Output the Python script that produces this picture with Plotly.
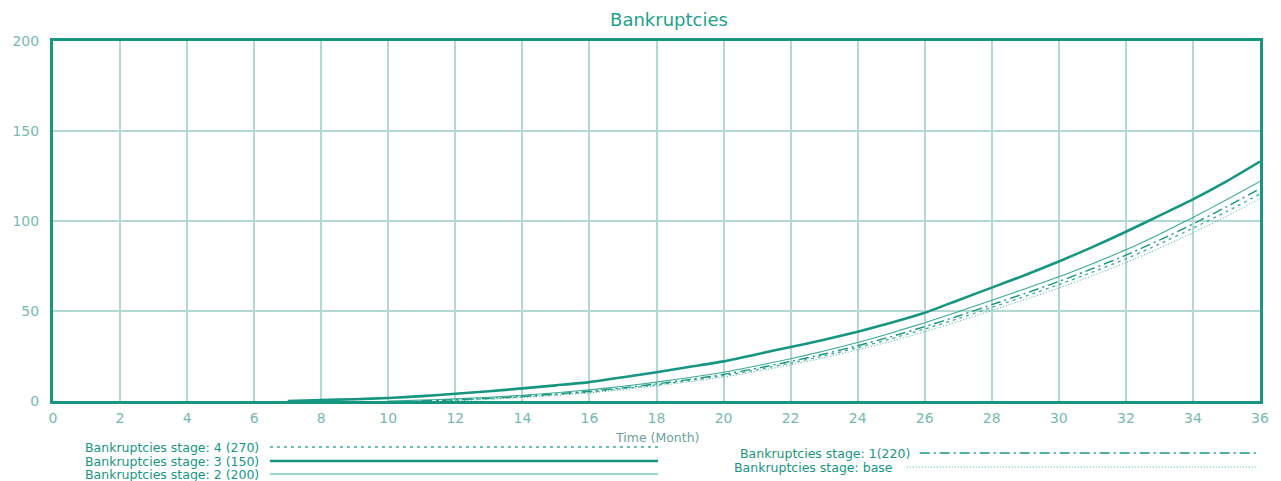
import plotly.graph_objects as go

months = list(range(0, 37))

stage3_150 = [None]*7 + [0, 0.5, 1.0, 1.7, 2.7, 4.0, 5.4, 7.0, 8.7, 10.5, 13.2, 16, 19, 22, 26, 30, 34,
              38.5, 43.5, 49, 56, 63, 70, 77.5, 85.5, 94, 103, 112, 122, 133]
stage2_200 = [None]*10 + [0, 0.5, 1.2, 2.1, 3.2, 4.6, 6.2, 8.2, 10.5, 13.1, 16, 19.6, 23.5, 27.8,
              32.5, 37.8, 43.5, 49.6, 56, 62.4, 69, 76.3, 84, 92.7, 102, 111.8, 122]
stage1_220 = [None]*11 + [0, 0.7, 1.5, 2.6, 3.9, 5.4, 7.3, 9.5, 12, 14.8, 18.2, 22, 26.1, 30.7,
              35.8, 41.3, 47.2, 53.5, 59.8, 66.4, 73.5, 81, 89.4, 98.3, 107.9, 118]
stage4_270 = [None]*11 + [0, 0.5, 1.3, 2.3, 3.6, 5.0, 6.9, 9.0, 11.4, 14.1, 17.4, 21.1, 25.1, 29.6,
              34.6, 40, 45.8, 52, 58.2, 64.7, 71.6, 79, 87.2, 96, 105.2, 115]
base = [None]*12 + [0, 0.9, 1.9, 3.1, 4.5, 6.3, 8.4, 10.7, 13.3, 16.5, 20.1, 24, 28.4,
        33.2, 38.5, 44.2, 50.3, 56.4, 62.8, 69.6, 76.9, 84.9, 93.5, 102.6, 112.5]

x_ticks = list(range(0, 37, 2))
y_ticks = [0, 50, 100, 150, 200]

TEAL = "rgb(22,150,128)"
TEAL_LIGHT = "rgb(60,170,150)"
GRID = "rgb(178,216,212)"
TICK = "rgb(120,185,175)"
FONT = "DejaVu Sans, Verdana, sans-serif"

series = [
    ("Bankruptcies stage: 4 (270)", stage4_270, dict(color=TEAL_LIGHT, width=1.3, dash="3px,4px")),
    ("Bankruptcies stage: 3 (150)", stage3_150, dict(color=TEAL, width=2.6, dash="solid")),
    ("Bankruptcies stage: 2 (200)", stage2_200, dict(color=TEAL_LIGHT, width=1.1, dash="solid")),
    ("Bankruptcies stage: 1(220)", stage1_220, dict(color=TEAL, width=1.4, dash="10px,4px,2px,4px")),
    ("Bankruptcies stage: base", base, dict(color=TEAL_LIGHT, width=1.0, dash="1px,2px")),
]

fig = go.Figure()
for name, vals, line in series:
    fig.add_trace(go.Scatter(x=months, y=vals, mode="lines", name=name,
                             line=dict(line, shape="spline", smoothing=0.6),
                             showlegend=False, connectgaps=False))

W, H = 1281, 481
L, R, T, B = 47, 21, 41, 80
pw, ph = W - L - R, H - T - B

def px(x):
    return (x - L) / pw

def py(y):
    return (H - B - y) / ph

shapes = []
annotations = []
legend = [
    (0, 256, 447, 265, 655),
    (1, 256, 461, 265, 655),
    (2, 256, 474, 265, 655),
    (3, 910, 453, 918, 1258),
    (4, 893, 467, 905, 1258),
]
for idx, tr, ty, x0, x1 in legend:
    name, _, line = series[idx]
    annotations.append(dict(xref="paper", yref="paper", x=px(tr), y=py(ty), text=name,
                            showarrow=False, xanchor="right", yanchor="middle",
                            font=dict(family=FONT, size=12.5, color=TEAL)))
    shapes.append(dict(type="line", xref="paper", yref="paper", x0=px(x0), x1=px(x1),
                       y0=py(ty), y1=py(ty), line=line))

annotations.append(dict(xref="paper", yref="paper", x=px(655), y=py(437), text="Time (Month)",
                        showarrow=False, xanchor="center", yanchor="middle",
                        font=dict(family=FONT, size=12.5, color="rgb(110,160,155)")))

fig.update_layout(
    width=W, height=H,
    margin=dict(l=L, r=R, t=T, b=B, pad=0),
    paper_bgcolor="white", plot_bgcolor="white",
    title=dict(text="Bankruptcies", x=669 / W, xanchor="center", y=1 - 20 / H, yanchor="middle",
               font=dict(family=FONT, size=18, color="rgb(30,160,138)")),
    xaxis=dict(range=[0, 36], tickvals=x_ticks, ticktext=[str(v) for v in x_ticks],
               showgrid=True, gridcolor=GRID, gridwidth=2, zeroline=False,
               showline=True, linecolor=TEAL, linewidth=3, mirror=True, ticks="",
               ticklabelstandoff=2,
               tickfont=dict(family=FONT, size=14, color=TICK)),
    yaxis=dict(range=[0, 200], tickvals=y_ticks, ticktext=[str(v) for v in y_ticks],
               showgrid=True, gridcolor=GRID, gridwidth=2, zeroline=False,
               showline=True, linecolor=TEAL, linewidth=3, mirror=True, ticks="",
               ticklabelstandoff=8,
               tickfont=dict(family=FONT, size=14, color=TICK)),
    shapes=shapes, annotations=annotations,
)

fig.write_html("out.html", config={"displayModeBar": False},
               post_script="document.body.style.margin='0';document.body.style.overflow='hidden';")
